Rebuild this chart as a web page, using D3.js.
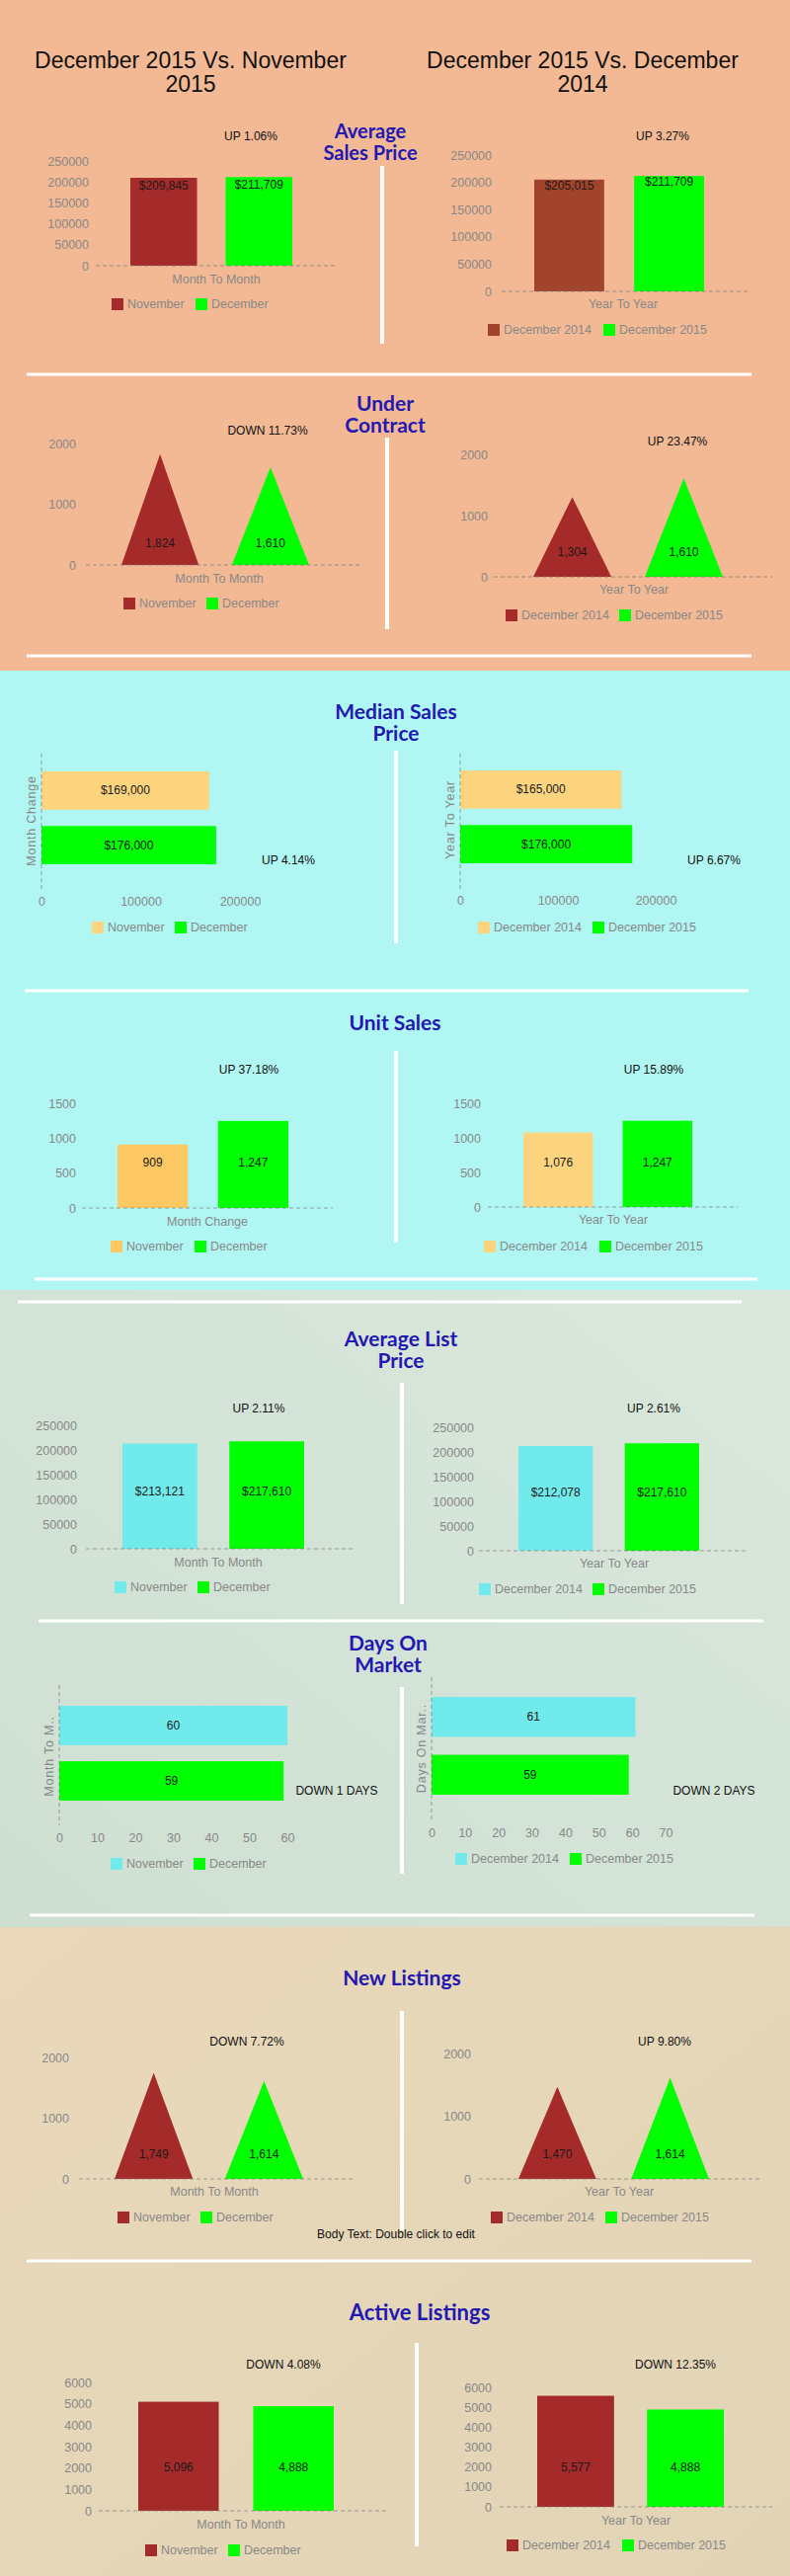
<!DOCTYPE html>
<html>
<head>
<meta charset="utf-8">
<script src="https://cdn.jsdelivr.net/npm/d3@7"></script>
<style>
  body { margin: 0; background: #fff; }
  svg { display: block; }
</style>
</head>
<body>
<script>
// ---- data ----
const monthCats = ['November', 'December'];
const yearCats = ['December 2014', 'December 2015'];

const avgSalesMonth = [209845, 211709];
const avgSalesYear = [205015, 211709];
const underContractMonth = [1824, 1610];
const underContractYear = [1304, 1610];
const medianMonth = [169000, 176000];
const medianYear = [165000, 176000];
const unitSalesMonth = [909, 1247];
const unitSalesYear = [1076, 1247];
const avgListMonth = [213121, 217610];
const avgListYear = [212078, 217610];
const domMonth = [60, 59];
const domYear = [61, 59];
const newListMonth = [1749, 1614];
const newListYear = [1470, 1614];
const activeMonth = [5096, 4888];
const activeYear = [5577, 4888];

const changes = ['UP 1.06%', 'UP 3.27%', 'DOWN 11.73%', 'UP 23.47%', 'UP 4.14%', 'UP 6.67%',
  'UP 37.18%', 'UP 15.89%', 'UP 2.11%', 'UP 2.61%', 'DOWN 1 DAYS', 'DOWN 2 DAYS',
  'DOWN 7.72%', 'UP 9.80%', 'DOWN 4.08%', 'DOWN 12.35%'];

const priceTicks = [0, 50000, 100000, 150000, 200000, 250000];
const countTicks = [0, 1000, 2000];
const medianTicks = [0, 100000, 200000];
const unitTicks = [0, 500, 1000, 1500];
const domTicksMonth = [0, 10, 20, 30, 40, 50, 60];
const domTicksYear = [0, 10, 20, 30, 40, 50, 60, 70];
const activeTicks = [0, 1000, 2000, 3000, 4000, 5000, 6000];

const sectionTitles = [
  ['Average', 'Sales Price'], ['Under', 'Contract'], ['Median Sales', 'Price'], ['Unit Sales'],
  ['Average List', 'Price'], ['Days On', 'Market'], ['New Listings'], ['Active Listings']
];

const money = d3.format('$,');
const count = d3.format(',');

const BROWN = '#a52a2a', SIENNA = '#a2442b', GREEN = '#00ff00',
  ORANGE = '#fec862', LIGHTORANGE = '#fed47e', CYAN = '#70eaea';

// ---- page ----
const W = 800, H = 2608;
const svg = d3.select('body').append('svg').attr('width', W).attr('height', H);

let defs = svg.append('defs');
let gg = defs.append('linearGradient').attr('id', 'gGreen')
  .attr('x1', '0').attr('y1', '1').attr('x2', '1').attr('y2', '0');
gg.append('stop').attr('offset', '0').attr('stop-color', '#cfdfd2');
gg.append('stop').attr('offset', '0.6').attr('stop-color', '#d5e4d8');
gg.append('stop').attr('offset', '1').attr('stop-color', '#dbe7dc');
let gb = defs.append('linearGradient').attr('id', 'gBeige')
  .attr('x1', '0').attr('y1', '0').attr('x2', '1').attr('y2', '1');
gb.append('stop').attr('offset', '0').attr('stop-color', '#e9d9ba');
gb.append('stop').attr('offset', '1').attr('stop-color', '#e2d4b6');

// section backgrounds
[[0, 679, '#f2b994'], [679, 1306, '#b0f6f3'], [1306, 1951, 'url(#gGreen)'], [1951, H, 'url(#gBeige)']]
  .forEach(b => {
    svg.append('rect').attr('x', 0).attr('y', b[0]).attr('width', W).attr('height', b[1] - b[0]).attr('fill', b[2]);
  });

// white separators
[[27, 761, 379], [27, 761, 664], [25, 758, 1003], [35, 767, 1295], [18, 751, 1318],
 [39, 773, 1641], [30, 764, 1939], [27, 761, 2289]].forEach(l => {
  svg.append('line').attr('x1', l[0]).attr('x2', l[1]).attr('y1', l[2]).attr('y2', l[2])
    .attr('stroke', '#fff').attr('stroke-width', 3);
});
[[387, 168, 348], [392, 443, 637], [401, 760, 955], [401, 1064, 1258],
 [407, 1400, 1624], [407, 1708, 1897], [407, 2036, 2258], [422, 2372, 2578]].forEach(l => {
  svg.append('line').attr('x1', l[0]).attr('x2', l[0]).attr('y1', l[1]).attr('y2', l[2])
    .attr('stroke', '#fff').attr('stroke-width', 4);
});

// headers
function header(lines, x) {
  lines.forEach((t, i) => {
    svg.append('text').attr('x', x).attr('y', 69 + i * 24).attr('text-anchor', 'middle')
      .attr('font-family', 'Liberation Sans, Arial, sans-serif').attr('font-size', 23)
      .attr('fill', '#111').text(t);
  });
}
header(['December 2015 Vs. November', '2015'], 193);
header(['December 2015 Vs. December', '2014'], 590);

// section titles
const titlePos = [[375, 140, 20], [390, 416, 21], [401, 728, 21], [400, 1043, 21],
  [406, 1363, 21], [393, 1671, 21], [407, 2010, 21], [425, 2349, 22]];
sectionTitles.forEach((lines, k) => {
  lines.forEach((t, i) => {
    svg.append('text').attr('x', titlePos[k][0]).attr('y', titlePos[k][1] + i * 22)
      .attr('text-anchor', 'middle').attr('font-family', 'Lato, Open Sans, sans-serif')
      .attr('font-weight', 700).attr('font-size', titlePos[k][2]).attr('fill', '#2318b0').text(t);
  });
});

// body text leftover
svg.append('text').attr('x', 401).attr('y', 2262).attr('text-anchor', 'middle')
  .attr('dominant-baseline', 'central').attr('font-family', 'Liberation Sans, Arial, sans-serif')
  .attr('font-size', 12).attr('fill', '#111').text('Body Text: Double click to edit');

// ---- panels ----
const panels = [
  { kind: 'vbar', cats: monthCats, values: avgSalesMonth, colors: [BROWN, GREEN], fmt: money, ticks: priceTicks,
    ax: { x0: 97, x1: 340, y0: 269, yTop: 163, labelX: 90 }, band: [132, 296], pad: 0.3, lab: ['top', 8],
    change: [changes[0], 254, 138], title: ['Month To Month', 219, 283], legend: [308, 113, 198] },
  { kind: 'vbar', cats: yearCats, values: avgSalesYear, colors: [SIENNA, GREEN], fmt: money, ticks: priceTicks,
    ax: { x0: 508, x1: 759, y0: 295, yTop: 157, labelX: 498 }, band: [541, 713], pad: 0.3, lab: ['top', 6],
    change: [changes[1], 671, 138], title: ['Year To Year', 631, 308], legend: [334, 494, 611] },

  { kind: 'tri', cats: monthCats, values: underContractMonth, colors: [BROWN, GREEN], fmt: count, ticks: countTicks,
    ax: { x0: 87, x1: 365, y0: 572, yTop: 449, labelX: 77 }, band: [123, 313], pad: 0.3, lab: ['base', 22],
    change: [changes[2], 271, 436], title: ['Month To Month', 222, 586], legend: [611, 125, 209] },
  { kind: 'tri', cats: yearCats, values: underContractYear, colors: [BROWN, GREEN], fmt: count, ticks: countTicks,
    ax: { x0: 500, x1: 782, y0: 584, yTop: 460, labelX: 494 }, band: [540, 732], pad: 0.3, lab: ['base', 25],
    change: [changes[3], 686, 447], title: ['Year To Year', 642, 597], legend: [623, 512, 627] },

  { kind: 'hbar', cats: monthCats, values: medianMonth, colors: [LIGHTORANGE, GREEN], fmt: money, ticks: medianTicks,
    ax: { x0: 42, xMax: 243, tickY: 913, yA: 763, yB: 900 }, band: [781, 875], pad: 0.3,
    ytitle: ['Month Change', 32, 831],
    change: [changes[4], 292, 871], legend: [939, 93, 177] },
  { kind: 'hbar', cats: yearCats, values: medianYear, colors: [LIGHTORANGE, GREEN], fmt: money, ticks: medianTicks,
    ax: { x0: 466, xMax: 664, tickY: 912, yA: 763, yB: 900 }, band: [780, 874], pad: 0.3,
    ytitle: ['Year To Year', 456, 830],
    change: [changes[5], 723, 871], legend: [939, 484, 600] },

  { kind: 'vbar', cats: monthCats, values: unitSalesMonth, colors: [ORANGE, GREEN], fmt: count, ticks: unitTicks,
    ax: { x0: 83, x1: 337, y0: 1223, yTop: 1117, labelX: 77 }, band: [119, 292], pad: 0.3, lab: ['base', 46],
    change: [changes[6], 252, 1083], title: ['Month Change', 210, 1237], legend: [1262, 112, 197] },
  { kind: 'vbar', cats: yearCats, values: unitSalesYear, colors: [LIGHTORANGE, GREEN], fmt: count, ticks: unitTicks,
    ax: { x0: 494, x1: 747, y0: 1222, yTop: 1117, labelX: 487 }, band: [530, 701], pad: 0.3, lab: ['base', 45],
    change: [changes[7], 662, 1083], title: ['Year To Year', 621, 1235], legend: [1262, 490, 607] },

  { kind: 'vbar', cats: monthCats, values: avgListMonth, colors: [CYAN, GREEN], fmt: money, ticks: priceTicks,
    ax: { x0: 87, x1: 358, y0: 1568, yTop: 1443, labelX: 78 }, band: [124, 308], pad: 0.3, lab: ['base', 58],
    change: [changes[8], 262, 1426], title: ['Month To Month', 221, 1582], legend: [1607, 116, 200] },
  { kind: 'vbar', cats: yearCats, values: avgListYear, colors: [CYAN, GREEN], fmt: money, ticks: priceTicks,
    ax: { x0: 485, x1: 756, y0: 1570, yTop: 1445, labelX: 480 }, band: [525, 708], pad: 0.3, lab: ['base', 59],
    change: [changes[9], 662, 1426], title: ['Year To Year', 622, 1583], legend: [1609, 485, 600] },

  { kind: 'hbar', cats: monthCats, values: domMonth, colors: [CYAN, GREEN], fmt: count, ticks: domTicksMonth,
    ax: { x0: 60, xMax: 291, tickY: 1861, yA: 1706, yB: 1848 }, band: [1727, 1823], pad: 0.29,
    ytitle: ['Month To M..', 50, 1778],
    change: [changes[10], 341, 1813], legend: [1887, 112, 196] },
  { kind: 'hbar', cats: yearCats, values: domYear, colors: [CYAN, GREEN], fmt: count, ticks: domTicksYear,
    ax: { x0: 437, xMax: 674, tickY: 1856, yA: 1698, yB: 1843 }, band: [1718, 1817], pad: 0.31,
    ytitle: ['Days On Mar..', 427, 1770],
    change: [changes[11], 723, 1813], legend: [1882, 461, 577] },

  { kind: 'tri', cats: monthCats, values: newListMonth, colors: [BROWN, GREEN], fmt: count, ticks: countTicks,
    ax: { x0: 80, x1: 358, y0: 2206, yTop: 2083, labelX: 70 }, band: [116, 307], pad: 0.29, lab: ['base', 25],
    change: [changes[12], 250, 2067], title: ['Month To Month', 217, 2219], legend: [2245, 119, 203] },
  { kind: 'tri', cats: yearCats, values: newListYear, colors: [BROWN, GREEN], fmt: count, ticks: countTicks,
    ax: { x0: 485, x1: 769, y0: 2206, yTop: 2079, labelX: 477 }, band: [525, 718], pad: 0.31, lab: ['base', 25],
    change: [changes[13], 673, 2067], title: ['Year To Year', 627, 2219], legend: [2245, 497, 613] },

  { kind: 'vbar', cats: monthCats, values: activeMonth, colors: [BROWN, GREEN], fmt: count, ticks: activeTicks,
    ax: { x0: 100, x1: 391, y0: 2542, yTop: 2412, labelX: 93 }, band: [140, 338], pad: 0.3, lab: ['base', 44],
    change: [changes[14], 287, 2394], title: ['Month To Month', 244, 2556], legend: [2582, 147, 231] },
  { kind: 'vbar', cats: yearCats, values: activeYear, colors: [BROWN, GREEN], fmt: count, ticks: activeTicks,
    ax: { x0: 506, x1: 782, y0: 2538, yTop: 2417, labelX: 498 }, band: [544, 733], pad: 0.3, lab: ['base', 40],
    change: [changes[15], 684, 2394], title: ['Year To Year', 644, 2552], legend: [2577, 513, 630] }
];

const FONT = 'Liberation Sans, Arial, sans-serif';
const GRAY = '#888';

function txt(g, t, x, y, opts) {
  opts = opts || {};
  return g.append('text').attr('x', x).attr('y', y)
    .attr('text-anchor', opts.anchor || 'middle').attr('dominant-baseline', 'central')
    .attr('font-family', FONT).attr('font-size', opts.size || 12.5)
    .attr('fill', opts.fill || GRAY).text(t);
}

function styleAxis(a) {
  a.select('.domain').remove();
  a.selectAll('text').attr('font-family', FONT).attr('font-size', 12.5).attr('fill', GRAY)
    .attr('dy', null).attr('dominant-baseline', 'central');
}

function drawLegend(g, p) {
  p.cats.forEach((c, i) => {
    let x = p.legend[1 + i];
    g.append('rect').attr('x', x).attr('y', p.legend[0] - 6).attr('width', 12).attr('height', 12)
      .attr('fill', p.colors[i]);
    txt(g, c, x + 16, p.legend[0], { anchor: 'start' });
  });
}

function drawVertical(g, p) {
  let ax = p.ax;
  let y = d3.scaleLinear().domain([0, p.ticks[p.ticks.length - 1]]).range([ax.y0, ax.yTop]);
  let x = d3.scaleBand().domain(p.cats).range(p.band).paddingInner(p.pad);

  let a = g.append('g').attr('transform', 'translate(' + ax.labelX + ',0)')
    .call(d3.axisLeft(y).tickValues(p.ticks).tickSize(0).tickPadding(0).tickFormat(d3.format('d')));
  styleAxis(a);

  if (p.kind === 'vbar') {
    g.selectAll('rect.bar').data(p.values).enter().append('rect').attr('class', 'bar')
      .attr('x', (d, i) => x(p.cats[i])).attr('width', x.bandwidth())
      .attr('y', d => y(d)).attr('height', d => y(0) - y(d))
      .attr('fill', (d, i) => p.colors[i]);
  } else {
    let line = d3.line();
    g.selectAll('path.tri').data(p.values).enter().append('path').attr('class', 'tri')
      .attr('d', (d, i) => {
        let x0 = x(p.cats[i]);
        return line([[x0, y(0)], [x0 + x.bandwidth() / 2, y(d)], [x0 + x.bandwidth(), y(0)]]) + 'Z';
      })
      .attr('fill', (d, i) => p.colors[i]);
  }

  g.append('line').attr('x1', ax.x0).attr('x2', ax.x1).attr('y1', y(0)).attr('y2', y(0))
    .attr('stroke', '#7a7a7a').attr('stroke-opacity', 0.7).attr('stroke-dasharray', '4,3');

  p.values.forEach((d, i) => {
    let ly = p.lab[0] === 'top' ? y(d) + p.lab[1] : y(0) - p.lab[1];
    txt(g, p.fmt(d), x(p.cats[i]) + x.bandwidth() / 2, ly, { fill: '#1a1a1a', size: 12 });
  });

  txt(g, p.title[0], p.title[1], p.title[2]);
}

function drawHorizontal(g, p) {
  let ax = p.ax;
  let x = d3.scaleLinear().domain([0, p.ticks[p.ticks.length - 1]]).range([ax.x0, ax.xMax]);
  let y = d3.scaleBand().domain(p.cats).range(p.band).paddingInner(p.pad);

  let a = g.append('g').attr('transform', 'translate(0,' + ax.tickY + ')')
    .call(d3.axisBottom(x).tickValues(p.ticks).tickSize(0).tickPadding(0).tickFormat(d3.format('d')));
  styleAxis(a);

  g.selectAll('rect.bar').data(p.values).enter().append('rect').attr('class', 'bar')
    .attr('x', x(0)).attr('width', d => x(d) - x(0))
    .attr('y', (d, i) => y(p.cats[i])).attr('height', y.bandwidth())
    .attr('fill', (d, i) => p.colors[i]);

  g.append('line').attr('x1', x(0)).attr('x2', x(0)).attr('y1', ax.yA).attr('y2', ax.yB)
    .attr('stroke', '#7a7a7a').attr('stroke-opacity', 0.7).attr('stroke-dasharray', '4,3');

  p.values.forEach((d, i) => {
    txt(g, p.fmt(d), (x(0) + x(d)) / 2, y(p.cats[i]) + y.bandwidth() / 2, { fill: '#1a1a1a', size: 12 });
  });

  txt(g, p.ytitle[0], 0, 0).attr('letter-spacing', 0.8)
    .attr('transform', 'translate(' + p.ytitle[1] + ',' + p.ytitle[2] + ') rotate(-90)');
}

panels.forEach(p => {
  let g = svg.append('g');
  if (p.kind === 'hbar') drawHorizontal(g, p);
  else drawVertical(g, p);
  txt(g, p.change[0], p.change[1], p.change[2], { fill: '#111', size: 12 });
  drawLegend(g, p);
});
</script>
</body>
</html>
